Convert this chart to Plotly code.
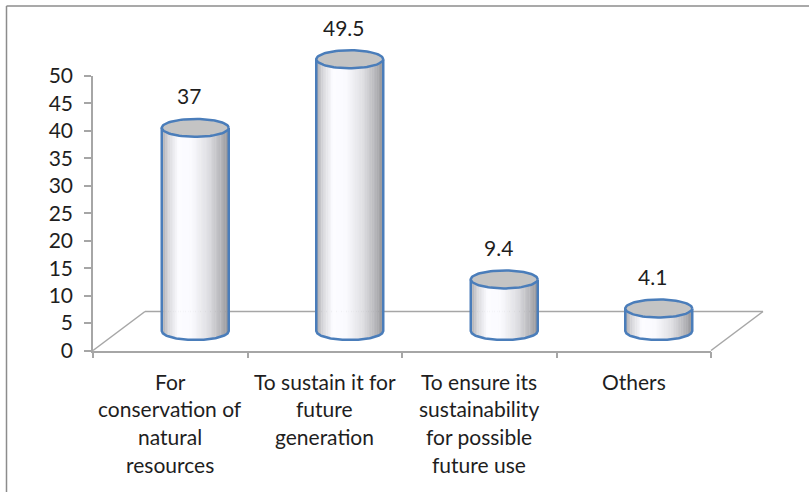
import numpy as np
import plotly.graph_objects as go

# ---------------- data ----------------
categories = [
    "For<br>conservation of<br>natural<br>resources",
    "To sustain it for<br>future<br>generation",
    "To ensure its<br>sustainability<br>for possible<br>future use",
    "Others",
]
values = [37, 49.5, 9.4, 4.1]
y_tick_vals = list(range(0, 55, 5))

# ---------------- geometry (pixels) ----------------
W, H = 809, 492
AX_L, AX_R = 93, 711          # front x axis extent
Y0_PX, Y50_PX = 350.5, 76     # y axis 0 and 50
BACK_DX, BACK_DY = 52, 39     # depth of the 3D floor
BAR_DX, BAR_DY = 25, 19.5     # bars sit mid-depth
CYL_HALF_W_PX = 33.5
ELL_RY_PX = 9

FONT = "Lato"
FS = 21
TXT = "#1e1e1e"
AXC = "#a6a6a6"
BLUE = "#4a7dba"


def fx(px):
    return px / W


def fy(py):
    return 1 - py / H


ncat = len(categories)
px_per_cat = (AX_R - AX_L) / ncat
px_per_unit = (Y0_PX - Y50_PX) / 50

c0_px = AX_L + 0.5 * px_per_cat + BAR_DX
x2_range = [(0 - c0_px) / px_per_cat, (W - c0_px) / px_per_cat]
y2_zero = Y0_PX - BAR_DY
y2_range = [-(H - y2_zero) / px_per_unit, y2_zero / px_per_unit]

w = CYL_HALF_W_PX / px_per_cat
ry = ELL_RY_PX / px_per_unit

fig = go.Figure()


def shade(u):
    g = np.interp(u, [-1, -0.8, -0.5, -0.1, 0.4, 0.8, 1.0],
                  [165, 215, 252, 250, 222, 178, 145])
    g = int(round(g))
    return f"rgb({g},{g},{g+4 if g < 251 else 255})"


# shaded body strips
N = 40
edges = np.linspace(-1, 1, N + 1)
for k in range(N):
    u0, u1 = edges[k], min(edges[k + 1] + 0.01, 1)
    xs, ys = [], []
    for i, v in enumerate(values):
        b0 = -ry * np.sqrt(max(0, 1 - u0 ** 2))
        b1 = -ry * np.sqrt(max(0, 1 - u1 ** 2))
        xs += [i + u0 * w, i + u1 * w, i + u1 * w, i + u0 * w, i + u0 * w, None]
        ys += [v, v, b1, b0, v, None]
    fig.add_trace(go.Scatter(x=xs, y=ys, xaxis="x2", yaxis="y2", mode="lines",
                             fill="toself", fillcolor=shade((u0 + u1) / 2),
                             line=dict(width=0, color=shade((u0 + u1) / 2)),
                             hoverinfo="skip", showlegend=False))

# outlines: sides + bottom arc
uu = np.linspace(-1, 1, 60)
xs, ys = [], []
for i, v in enumerate(values):
    xs += [i - w] + list(i + uu * w) + [i + w, None]
    ys += [v] + list(-ry * np.sqrt(1 - uu ** 2)) + [v, None]
fig.add_trace(go.Scatter(x=xs, y=ys, xaxis="x2", yaxis="y2", mode="lines",
                         line=dict(color=BLUE, width=2.5), hoverinfo="skip",
                         showlegend=False))

# top ellipses
tt = np.linspace(0, 2 * np.pi, 80)
xs, ys = [], []
for i, v in enumerate(values):
    xs += list(i + w * np.cos(tt)) + [None]
    ys += list(v + ry * np.sin(tt)) + [None]
fig.add_trace(go.Scatter(x=xs, y=ys, xaxis="x2", yaxis="y2", mode="lines",
                         fill="toself", fillcolor="#c4c4c4",
                         line=dict(color=BLUE, width=2.5), hoverinfo="skip",
                         showlegend=False))

annotations = []
# value labels
for i, v in enumerate(values):
    annotations.append(dict(x=i, y=v, xref="x2", yref="y2", text=f"{v:g}",
                            showarrow=False, xshift=-6, yshift=32,
                            font=dict(family=FONT, size=FS, color=TXT)))
# category labels (one annotation per line, Excel-like spacing)
for i, cat in enumerate(categories):
    for k, line in enumerate(cat.split("<br>")):
        annotations.append(dict(x=i, y=fy(381 + 27.8 * k), xref="x", yref="paper",
                                text=line, showarrow=False, yanchor="middle",
                                font=dict(family=FONT, size=FS, color=TXT)))

shapes = [
    # outer chart border (top and left edges visible)
    dict(type="line", xref="paper", yref="paper", x0=fx(6.5), y0=fy(6), x1=1, y1=fy(6),
         line=dict(color="#8c8c8c", width=1.5), layer="below"),
    dict(type="line", xref="paper", yref="paper", x0=fx(6.5), y0=fy(6), x1=fx(6.5), y1=0,
         line=dict(color="#8c8c8c", width=1.5), layer="below"),
    # 3D floor
    dict(type="line", xref="paper", yref="paper", x0=fx(AX_L), y0=fy(Y0_PX),
         x1=fx(AX_L + BACK_DX), y1=fy(Y0_PX - BACK_DY), line=dict(color=AXC, width=1.5), layer="below"),
    dict(type="line", xref="paper", yref="paper", x0=fx(AX_L + BACK_DX), y0=fy(Y0_PX - BACK_DY),
         x1=fx(AX_R + BACK_DX), y1=fy(Y0_PX - BACK_DY), line=dict(color=AXC, width=1.5), layer="below"),
    dict(type="line", xref="paper", yref="paper", x0=fx(AX_R), y0=fy(Y0_PX),
         x1=fx(AX_R + BACK_DX), y1=fy(Y0_PX - BACK_DY), line=dict(color=AXC, width=1.5), layer="below"),
]

fig.update_layout(
    width=W, height=H,
    margin=dict(l=0, r=0, t=0, b=0, pad=0, autoexpand=False),
    paper_bgcolor="white", plot_bgcolor="rgba(0,0,0,0)",
    showlegend=False,
    xaxis=dict(domain=[fx(AX_L), fx(AX_R)], range=[-0.5, ncat - 0.5], anchor="y",
               tickvals=[j - 0.5 for j in range(ncat + 1)], showticklabels=False,
               ticks="outside", ticklen=6, tickcolor=AXC, tickwidth=1.5,
               showline=True, linecolor=AXC, linewidth=1.5, automargin=False,
               showgrid=False, zeroline=False, fixedrange=True),
    yaxis=dict(domain=[fy(Y0_PX), fy(Y50_PX)], range=[0, 50], anchor="x",
               tickvals=y_tick_vals, ticks="outside", ticklen=7, tickcolor=AXC, tickwidth=1.5,
               ticklabelstandoff=7, automargin=False,
               tickfont=dict(family=FONT, size=FS, color=TXT),
               showline=True, linecolor=AXC, linewidth=1.5,
               showgrid=False, zeroline=False, fixedrange=True),
    xaxis2=dict(domain=[0, 1], range=x2_range, anchor="y2", visible=False,
                automargin=False, fixedrange=True),
    yaxis2=dict(domain=[0, 1], range=y2_range, anchor="x2", visible=False,
                automargin=False, fixedrange=True),
    annotations=annotations,
    shapes=shapes,
)

fig.write_html("out.html")
